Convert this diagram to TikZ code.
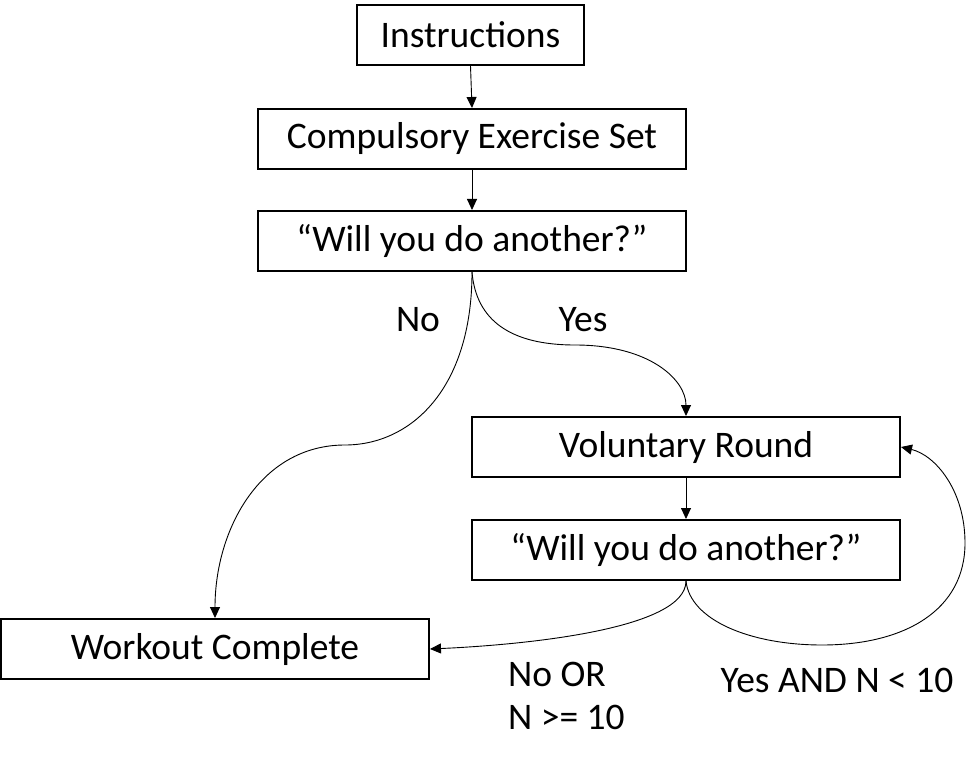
\documentclass[tikz,border=0pt]{standalone}
\usepackage{fontspec}
\setmainfont{Carlito}
\usetikzlibrary{arrows.meta}
\begin{document}
\begin{tikzpicture}[x=1pt,y=-1pt,
  box/.style={draw=black,line width=2pt,minimum height=60pt,inner sep=0pt,font=\fontsize{37.5}{44}\selectfont},
  lbl/.style={inner sep=0pt,font=\fontsize{37.5}{44}\selectfont},
  conn/.style={draw=black,line width=0.9pt,-{Triangle[length=11pt,width=10pt]}}]
\useasboundingbox (0,0) rectangle (977,762);
\node[box,minimum width=227pt] (ins) at (470.5,35) {Instructions};
\node[box,minimum width=428pt] (comp) at (472,139) {Compulsory Exercise Set};
\node[box,minimum width=428pt] (will1) at (472,241) {“Will you do another?”};
\node[box,minimum width=428pt] (vol) at (686,447) {Voluntary Round};
\node[box,minimum width=428pt] (will2) at (686,550) {“Will you do another?”};
\node[box,minimum width=428pt] (done) at (215,649) {Workout Complete};
\draw[conn] (ins.south) -- (comp.north);
\draw[conn] (comp.south) -- (will1.north);
\draw[conn] (vol.south) -- (will2.north);
\coordinate (nomid) at (345,445);
\coordinate (yesmid) at (575,345);
\coordinate (lowmid) at (822,645);
\coordinate (rightmid) at (965,543);
\draw[conn] (will1.south) .. controls (472,390) and (410,445) .. (nomid)
  .. controls (260,445) and (215,530) .. (done.north);
\draw[conn] (will1.south) .. controls (476,320) and (510,345) .. (yesmid)
  .. controls (650,345) and (686,380) .. (vol.north);
\draw[conn] (will2.south) .. controls (686,630) and (520,645) .. (done.east);
\draw[conn] (will2.south) .. controls (690,620) and (750,645) .. (lowmid)
  .. controls (905,645) and (965,610) .. (rightmid)
  .. controls (965,490) and (935,455) .. (vol.east);
\node[lbl] (lno) at (418,320) {No};
\node[lbl] (lyes) at (583,320) {Yes};
\node[lbl,anchor=base west] (lnoor) at (508,686) {No OR};
\node[lbl,anchor=base west] (lnge) at (508,729) {N >= 10};
\node[lbl] (lyesand) at (837,680) {Yes AND N < 10};
\end{tikzpicture}
\end{document}
